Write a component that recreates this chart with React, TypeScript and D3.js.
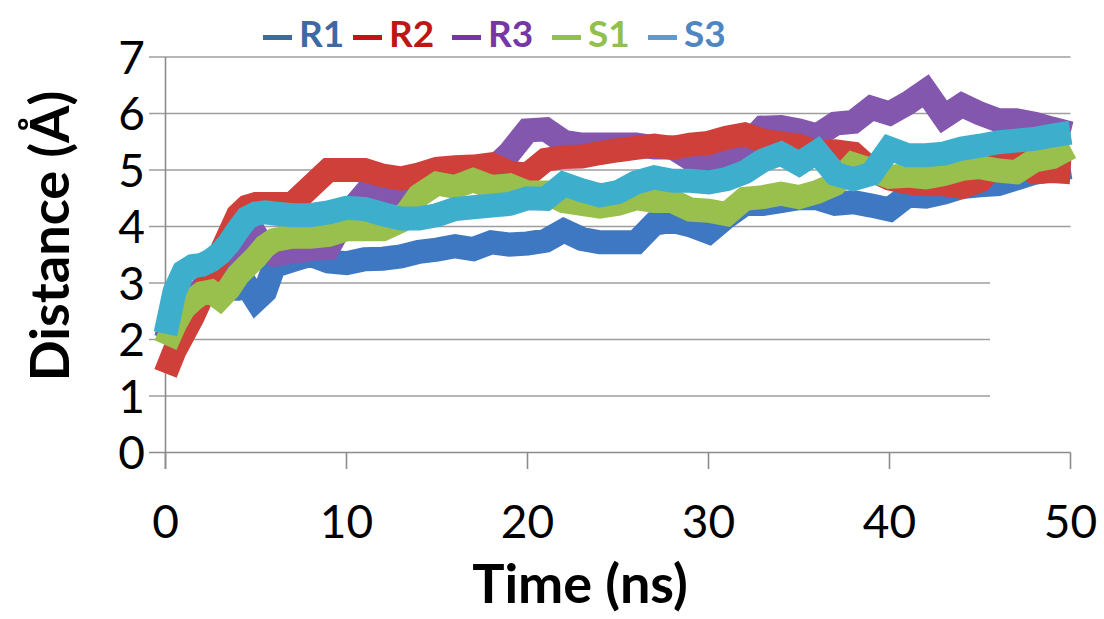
import React from "react";
import * as d3 from "d3";

const times = [0, 0.5, 1, 1.5, 2, 2.5, 3, 3.5, 4, 4.5, 5, 5.5, 6, 7, 8, 9, 10, 11, 12, 13, 14, 15, 16, 17, 18, 19, 20, 21, 22, 23, 24, 25, 26, 27, 28, 29, 30, 31, 32, 33, 34, 35, 36, 37, 38, 39, 40, 41, 42, 43, 44, 45, 46, 47, 48, 49, 50];

const r1 = [2.0, 2.4, 2.6, 2.7, 2.8, 2.85, 2.9, 2.9, 2.9, 2.95, 2.7, 2.85, 3.3, 3.4, 3.5, 3.38, 3.35, 3.42, 3.43, 3.47, 3.55, 3.59, 3.65, 3.6, 3.72, 3.68, 3.7, 3.75, 3.93, 3.78, 3.72, 3.72, 3.72, 4.05, 4.1, 4.02, 3.9, 4.17, 4.4, 4.4, 4.45, 4.5, 4.5, 4.4, 4.43, 4.37, 4.3, 4.55, 4.53, 4.6, 4.7, 4.73, 4.75, 4.85, 4.95, 5.0, 5.05];
const r2 = [1.4, 1.8, 2.1, 2.4, 2.75, 3.15, 3.5, 3.85, 4.2, 4.35, 4.4, 4.4, 4.4, 4.4, 4.7, 5.0, 5.0, 5.0, 4.9, 4.85, 4.92, 5.02, 5.05, 5.06, 5.1, 4.95, 4.92, 5.18, 5.23, 5.24, 5.3, 5.35, 5.39, 5.43, 5.39, 5.45, 5.48, 5.57, 5.63, 5.52, 5.47, 5.43, 5.3, 5.33, 5.29, 5.0, 4.85, 4.78, 4.75, 4.75, 4.7, 4.81, 5.15, 5.2, 4.96, 4.98, 4.96];
const r3 = [2.0, 2.3, 2.5, 2.7, 2.9, 3.0, 3.1, 3.3, 3.5, 3.7, 3.85, 3.6, 3.5, 3.55, 3.6, 3.62, 4.2, 4.58, 4.55, 4.6, 4.7, 4.8, 4.9, 4.93, 5.0, 5.3, 5.7, 5.72, 5.5, 5.45, 5.45, 5.45, 5.45, 5.4, 5.4, 5.2, 5.15, 5.2, 5.4, 5.75, 5.76, 5.7, 5.61, 5.82, 5.85, 6.1, 6.0, 6.18, 6.4, 5.94, 6.15, 6.0, 5.88, 5.88, 5.82, 5.73, 5.65];
const s1 = [1.9, 2.26, 2.55, 2.7, 2.82, 2.85, 2.73, 2.9, 3.14, 3.3, 3.46, 3.65, 3.76, 3.82, 3.82, 3.85, 3.95, 3.95, 3.95, 4.1, 4.55, 4.76, 4.7, 4.82, 4.7, 4.73, 4.6, 4.6, 4.45, 4.4, 4.35, 4.4, 4.5, 4.45, 4.45, 4.3, 4.28, 4.22, 4.49, 4.52, 4.58, 4.52, 4.61, 4.75, 5.1, 5.0, 4.88, 4.9, 4.87, 4.93, 5.02, 5.05, 4.99, 4.96, 5.17, 5.23, 5.4];
const s3 = [2.1, 2.85, 3.2, 3.3, 3.32, 3.4, 3.52, 3.7, 3.94, 4.15, 4.23, 4.25, 4.23, 4.2, 4.2, 4.25, 4.33, 4.31, 4.22, 4.14, 4.14, 4.2, 4.31, 4.34, 4.37, 4.4, 4.5, 4.49, 4.75, 4.64, 4.55, 4.61, 4.78, 4.87, 4.81, 4.81, 4.78, 4.84, 4.96, 5.17, 5.29, 5.11, 5.32, 4.93, 4.84, 4.93, 5.38, 5.26, 5.26, 5.29, 5.38, 5.43, 5.49, 5.52, 5.55, 5.61, 5.66];

const seriesNames = ["R1", "R2", "R3", "S1", "S3"];
const seriesValues = [r1, r2, r3, s1, s3];
const lineColors = ["#3f78c2", "#d0403a", "#8257ad", "#99c04c", "#3eaecd"];
const legendTextColors = ["#3d6aa3", "#c01515", "#7636a6", "#92c050", "#4f85c0"];
const legendDashColors = ["#3d6aa3", "#c01515", "#7636a6", "#92c050", "#5b9bd5"];
const drawOrder = [0, 2, 1, 3, 4];

const xTicks = [0, 10, 20, 30, 40, 50];
const yTicks = [0, 1, 2, 3, 4, 5, 6, 7];

export default function App() {
  const W = 1104, H = 619;
  const x = d3.scaleLinear().domain([0, 50]).range([165.5, 1070.5]);
  const y = d3.scaleLinear().domain([0, 7]).range([452.5, 57]);
  const line = d3.line<number>().x((_, i) => x(times[i])).y((d) => y(d));
  const legendStarts = [263, 353, 452, 552, 648];
  const font = "Lato, 'Open Sans', sans-serif";

  return (
    <svg width={W} height={H} style={{ position: "absolute", left: 0, top: 0, background: "#fff" }}>
      <rect width={W} height={H} fill="#fff" />
      {yTicks.filter((v) => v > 0).map((v) => (
        <line key={v} x1={149} x2={v <= 3 ? 990 : x(50)} y1={y(v)} y2={y(v)} stroke="#9e9e9e" strokeWidth={1.6} />
      ))}
      <line x1={x(0)} x2={x(0)} y1={y(7)} y2={469} stroke="#8c8c8c" strokeWidth={1.6} />
      <line x1={149} x2={x(50)} y1={y(0)} y2={y(0)} stroke="#8c8c8c" strokeWidth={1.6} />
      {xTicks.map((t) => (
        <line key={t} x1={x(t)} x2={x(t)} y1={y(0)} y2={469} stroke="#8c8c8c" strokeWidth={1.6} />
      ))}
      {drawOrder.map((i) => (
        <path key={seriesNames[i]} d={line(seriesValues[i]) || ""} fill="none" stroke={lineColors[i]} strokeWidth={24} strokeLinejoin="miter" strokeMiterlimit={3} />
      ))}
      {yTicks.map((v) => (
        <text key={v} x={145} y={y(v)} dy="0.36em" textAnchor="end" fontFamily={font} fontSize={46} fill="#000">{v}</text>
      ))}
      {xTicks.map((t) => (
        <text key={t} x={x(t)} y={538} textAnchor="middle" fontFamily={font} fontSize={46} fill="#000">{t}</text>
      ))}
      <text x={580} y={603} textAnchor="middle" fontFamily={font} fontWeight="bold" fontSize={54} fill="#000">Time (ns)</text>
      <text transform="translate(69,236) rotate(-90)" textAnchor="middle" fontFamily={font} fontWeight="bold" fontSize={54} fill="#000">Distance (Å)</text>
      {seriesNames.map((n, i) => (
        <g key={n}>
          <line x1={legendStarts[i]} x2={legendStarts[i] + 29} y1={37.5} y2={37.5} stroke={legendDashColors[i]} strokeWidth={5} />
          <text x={legendStarts[i] + 36} y={47} fontFamily={font} fontWeight="bold" fontSize={37} fill={legendTextColors[i]}>{n}</text>
        </g>
      ))}
    </svg>
  );
}
